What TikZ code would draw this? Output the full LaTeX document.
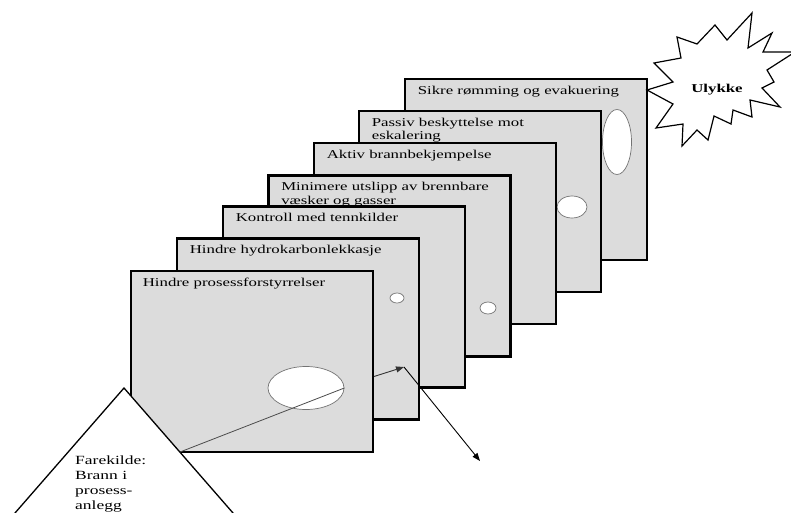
\documentclass[tikz,border=0pt]{standalone}
\usepackage{fontspec}
\setmainfont{Liberation Serif}[FakeStretch=1.4]
\usetikzlibrary{shapes.geometric,arrows.meta,calc}
\definecolor{barriergray}{HTML}{DCDCDC}
\tikzset{
  barrier/.style={draw, line width=2.8pt, fill=barriergray, minimum width=242pt, minimum height=181pt, inner sep=0pt},
  title/.style={anchor=north west, inner sep=0pt, align=left, font=\fontsize{12}{13.5}\selectfont},
  hole/.style={ellipse, draw=black!55, line width=0.7pt, fill=white, inner sep=0pt},
  flow/.style={line width=0.9pt, -{Triangle[length=8pt,width=6pt]}}
}

\begin{document}
\begin{tikzpicture}[x=1pt, y=-1pt]
\useasboundingbox (0,0) rectangle (791,513);
\clip (0,0) rectangle (791,513);

% barrierene, bakerste forst
\node[barrier] (b7) at (526,169.5) {};
\node[title] (t7) at ([shift={(14,8)}]b7.north west) {Sikre rømming og evakuering};
\node[hole, minimum width=29pt, minimum height=65pt] (h7) at (617,142) {};

\node[barrier] (b6) at (480,201.5) {};
\node[title] (t6) at ([shift={(14,8)}]b6.north west) {Passiv beskyttelse mot\\eskalering};
\node[hole, minimum width=30pt, minimum height=22pt] (h6) at (572,207) {};

\node[barrier] (b5) at (435,233.5) {};
\node[title] (t5) at ([shift={(14,8)}]b5.north west) {Aktiv brannbekjempelse};

\node[barrier] (b4) at (389.5,266) {};
\node[title] (t4) at ([shift={(14,8)}]b4.north west) {Minimere utslipp av brennbare\\væsker og gasser};
\node[hole, minimum width=16pt, minimum height=12pt] (h4) at (488,308) {};

\node[barrier] (b3) at (344,297) {};
\node[title] (t3) at ([shift={(14,8)}]b3.north west) {Kontroll med tennkilder};

\node[barrier] (b2) at (298,329) {};
\node[title] (t2) at ([shift={(14,8)}]b2.north west) {Hindre hydrokarbonlekkasje};
\node[hole, minimum width=14pt, minimum height=10pt] (h2) at (397,298) {};

\node[barrier] (b1) at (252,361.5) {};
\node[title] (t1) at ([shift={(13,8)}]b1.north west) {Hindre prosessforstyrrelser};
\node[hole, minimum width=76pt, minimum height=43pt] (h1) at (306,388) {};

% ulykken
\draw[line width=1.2pt, fill=white] (647,90) -- (673,82) -- (654,63) -- (681,58) -- (677,37)
  -- (697,44) -- (715,25) -- (727,40) -- (752,13) -- (748,48) -- (772,33) -- (763,52)
  -- (795,52) -- (767,70) -- (774,82) -- (762,88) -- (780,107) -- (750,100) -- (752,117)
  -- (733,110) -- (731,124) -- (714,116) -- (708,140) -- (697,130) -- (682,146)
  -- (683,124) -- (656,128) -- (673,104) -- cycle;
\node[font=\fontsize{12}{14}\bfseries] (ulykke) at (717,90) {Ulykke};

% farekilden
\coordinate (apex) at (124,388);
\draw[line width=1.3pt, fill=white] (-26,560) -- (apex) -- (274,560) -- cycle;
\node[title, font=\fontsize{12.5}{15}\selectfont] (kilde) at (75,456) {Farekilde:\\Brann i\\prosess-\\anlegg};

% hendelsesforlopet
\coordinate (src) at (180,452);
\coordinate (gap) at (374,376.5);
\coordinate (tip) at (404,367);
\coordinate (end) at (480,461);
\draw[line width=0.8pt, black!70] (src) -- (h1.east);
\draw[flow, black!80] (gap) -- (tip);
\draw[flow] (tip) -- (end);
\end{tikzpicture}
\end{document}
